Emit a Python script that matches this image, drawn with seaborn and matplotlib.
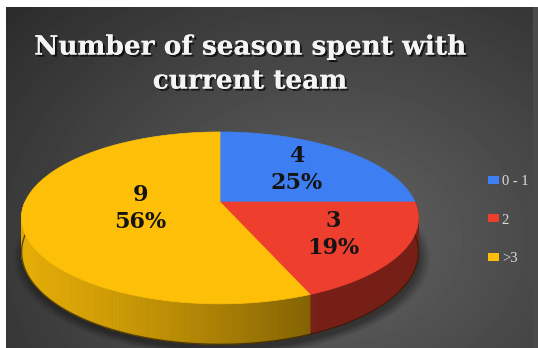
import numpy as np
import pandas as pd
import matplotlib
matplotlib.use("Agg")
import matplotlib.pyplot as plt
import seaborn as sns
from matplotlib.patches import Polygon, Patch
import matplotlib.patheffects as pe

# ---- data -------------------------------------------------------------
categories = ["0 - 1", "2", ">3"]
counts = [4, 3, 9]
colors = ["#3d7ff3", "#ee3e2e", "#fdbf08"]
title_text = "Number of season spent with\ncurrent team"

# ---- layout of the 3-D pie (pixel space) ------------------------------
CX, CY = 220.0, 202.0      # pie centre on the top face
RX, RY = 195.0, 83.0       # horizontal / depth radii
PERSP = 0.185              # perspective strength (far side smaller)
DEPTH = 33.0               # thickness of the pie
label_radius = [0.60, 0.65, 0.41]

sns.set_theme(style="dark")
plt.rcParams["font.family"] = ["DejaVu Serif", "DejaVu Sans"]

df = pd.DataFrame({"category": categories, "count": counts, "color": colors})
df["frac"] = df["count"] / df["count"].sum()
df["pct"] = (df["frac"] * 100).round().astype(int)
bounds = 90.0 - 360.0 * np.concatenate([[0.0], df["frac"].cumsum().to_numpy()])

W, H = 538, 348
fig = plt.figure(figsize=(W / 100, H / 100), dpi=100)
fig.patch.set_facecolor("white")
ax = fig.add_axes([0, 0, 1, 1])
ax.set_xlim(0, W)
ax.set_ylim(H, 0)
ax.axis("off")

# ---- dark radial backdrop --------------------------------------------
yy, xx = np.mgrid[7:H, 6:533]
r = np.sqrt(((xx - 330) / 420.0) ** 2 + ((yy - 240) / 330.0) ** 2)
shade = np.clip(0.39 - 0.21 * r, 0.17, 1)
ax.imshow(shade, cmap="gray", vmin=0, vmax=1, extent=(6, 533, H, 7),
          interpolation="bilinear", zorder=0, aspect="auto")
ax.add_patch(plt.Rectangle((533, 7), 5, H - 7, color="#4a4a4a", zorder=0, lw=0))


def proj(theta_deg, radius=1.0, drop=0.0):
    t = np.radians(theta_deg)
    u = radius * np.cos(t)
    v = radius * np.sin(t)
    w = 1.0 + PERSP * v
    return CX + RX * u / w, CY - RY * v / w + drop / w


def darker(c, f):
    rgb = np.array(matplotlib.colors.to_rgb(c))
    return tuple(np.clip(rgb * f, 0, 1))


# ---- soft shadow under the pie ----------------------------------------
ring = np.linspace(0, 360, 200)
for k, a in zip(np.linspace(1.05, 1.0, 6), np.linspace(0.05, 0.09, 6)):
    sx, sy = proj(-ring, radius=1.0, drop=DEPTH + 2)
    sx = CX + (sx - CX) * k
    sy = CY + 30 + (sy - CY - 30) * k
    ax.add_patch(Polygon(np.column_stack([sx + 2, sy + 3]), closed=True,
                         facecolor="black", edgecolor="none", alpha=a, zorder=1))

# ---- side walls (front half only) -------------------------------------
light = np.radians(205)
for i, row in df.iterrows():
    hi, lo = bounds[i], bounds[i + 1]
    lo_f, hi_f = max(lo, -180.0), min(hi, 0.0)
    if lo_f >= hi_f:
        continue
    ts = np.linspace(hi_f, lo_f, max(int((hi_f - lo_f) * 1.5), 2))
    for ta, tb in zip(ts[:-1], ts[1:]):
        tm = np.radians(0.5 * (ta + tb))
        dot = np.cos(tm) * np.cos(light) + np.sin(tm) * np.sin(light)
        f = 0.50 + 0.40 * max(dot, 0.0)
        xa, ya = proj(ta)
        xb, yb = proj(tb)
        xa2, ya2 = proj(ta, drop=DEPTH)
        xb2, yb2 = proj(tb, drop=DEPTH)
        col = darker(row["color"], f)
        ax.add_patch(Polygon([(xa, ya), (xb, yb), (xb2, yb2), (xa2, ya2)],
                             closed=True, facecolor=col, edgecolor=col,
                             lw=0.6, zorder=2))

# bottom rim outline
tb_all = np.linspace(0, -180, 200)
bx, by = proj(tb_all, drop=DEPTH)
ax.plot(bx, by, color="#2a1d05", lw=1.0, alpha=0.7, zorder=3)

# ---- top faces ----------------------------------------------------------
for i, row in df.iterrows():
    ts = np.linspace(bounds[i], bounds[i + 1], 120)
    px, py = proj(ts)
    pts = np.vstack([[CX, CY], np.column_stack([px, py])])
    ax.add_patch(Polygon(pts, closed=True, facecolor=row["color"],
                         edgecolor=row["color"], lw=0.5, zorder=4))

# ---- data labels --------------------------------------------------------
for i, row in df.iterrows():
    mid = 0.5 * (bounds[i] + bounds[i + 1])
    lx, ly = proj(mid, radius=label_radius[i])
    ax.text(lx, ly, f"{row['count']}\n{row['pct']}%", ha="center", va="center",
            fontsize=16, fontweight="bold", color="#141414",
            linespacing=1.3, zorder=6)

# ---- title --------------------------------------------------------------
ax.text(250, 64, title_text, ha="center", va="center", fontsize=19,
        fontweight="bold", color="#f4f4f4", linespacing=1.45, zorder=6,
        path_effects=[pe.withSimplePatchShadow(offset=(1.5, -1.5),
                                               shadow_rgbFace="black", alpha=0.7),
                      pe.Normal()])

# ---- legend -------------------------------------------------------------
handles = [Patch(facecolor=c, edgecolor="none") for c in df["color"]]
leg = ax.legend(handles, df["category"], loc="center left",
                bbox_to_anchor=(488 / W, 1 - 220 / H), frameon=False,
                prop={"family": ["Liberation Serif", "DejaVu Serif"], "size": 10.5},
                handlelength=0.75, handleheight=0.45,
                handletextpad=0.2, labelspacing=1.75, borderpad=0,
                borderaxespad=0)
for t in leg.get_texts():
    t.set_color("#dcdcdc")

fig.savefig("out.png", dpi=100, facecolor=fig.get_facecolor())
